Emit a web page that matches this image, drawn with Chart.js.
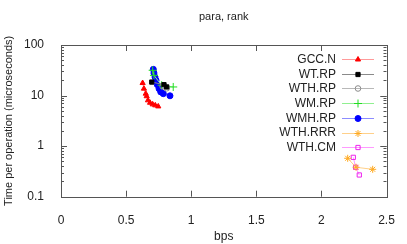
<!DOCTYPE html>
<html>
<head>
<meta charset="utf-8">
<script src="https://cdn.jsdelivr.net/npm/chart.js@4/dist/chart.umd.min.js"></script>
<style>
  html, body { margin: 0; padding: 0; background: #fff; }
  #wrap { width: 407px; height: 244px; }
</style>
</head>
<body>
<div id="wrap"><canvas id="chart" width="407" height="244"></canvas></div>
<script>
// data (x = bps, y = microseconds per op)
const seriesNames = ["GCC.N", "WT.RP", "WTH.RP", "WM.RP", "WMH.RP", "WTH.RRR", "WTH.CM"];

const gccX = [0.627, 0.637, 0.651, 0.658, 0.668, 0.684, 0.704, 0.724, 0.747];
const gccY = [17.7, 13.7, 10.9, 9.7, 8.05, 7.2, 6.7, 6.4, 6.1];

const wtX = [0.697, 0.791, 0.812];
const wtY = [18.5, 16.4, 14.8];

const wthX = [0.78, 0.812];
const wthY = [15.2, 13.9];

const wmX = [0.704, 0.714, 0.773, 0.862];
const wmY = [31.6, 25.1, 16.0, 14.8];

const wmhX = [0.709, 0.714, 0.722, 0.730, 0.740, 0.753, 0.766, 0.786, 0.837];
const wmhY = [33, 27.9, 23.3, 20, 16.4, 13.7, 11.8, 10.9, 9.9];

const rrrX = [2.202, 2.266, 2.394];
const rrrY = [0.575, 0.382, 0.348];

const cmX = [2.245, 2.263, 2.291];
const cmY = [0.60, 0.382, 0.269];

const xTicks = [0, 0.5, 1, 1.5, 2, 2.5];
const yTicks = [0.1, 1, 10, 100];

// styles
const styles = [
  { line: "#ff9a9a", point: "#ff0000", fill: "#ff0000", shape: "triangle", r: 3 },
  { line: "#8a8a8a", point: "#000000", fill: "#000000", shape: "rect", r: 3 },
  { line: "#b8b8b8", point: "#8c8c8c", fill: "rgba(0,0,0,0)", shape: "circle", r: 2.8 },
  { line: "#90f090", point: "#22dd22", fill: "#22dd22", shape: "cross", r: 4 },
  { line: "#8c8cff", point: "#0000ff", fill: "#0000ff", shape: "circle", r: 3 },
  { line: "#ffd08a", point: "#ffaa22", fill: "#ffaa22", shape: "star", r: 3.5 },
  { line: "#ff9aff", point: "#ee22ee", fill: "rgba(0,0,0,0)", shape: "rect", r: 3 }
];

const allX = [gccX, wtX, wthX, wmX, wmhX, rrrX, cmX];
const allY = [gccY, wtY, wthY, wmY, wmhY, rrrY, cmY];

const FONT = "'Liberation Sans', Arial, sans-serif";

const datasets = seriesNames.map((name, i) => ({
  label: name,
  data: allX[i].map((x, k) => ({ x: x, y: allY[i][k] })),
  showLine: true,
  borderColor: styles[i].line,
  borderWidth: 1,
  pointStyle: styles[i].shape,
  pointRadius: styles[i].r,
  pointBorderColor: styles[i].point,
  pointBackgroundColor: styles[i].fill,
  pointBorderWidth: 1
}));

// frame, inward ticks, title, gnuplot-style key
const gnuplotBits = {
  id: "gnuplotBits",
  afterDraw(chart) {
    const ctx = chart.ctx;
    const a = chart.chartArea;
    const xs = chart.scales.x, ys = chart.scales.y;
    ctx.save();
    ctx.strokeStyle = "#555";
    ctx.lineWidth = 1;
    ctx.strokeRect(Math.round(a.left) + 0.5, Math.round(a.top) + 0.5,
      Math.round(a.right - a.left), Math.round(a.bottom - a.top));
    ctx.beginPath();
    xTicks.forEach(v => {
      const px = Math.round(xs.getPixelForValue(v)) + 0.5;
      ctx.moveTo(px, a.bottom); ctx.lineTo(px, a.bottom - 6);
      ctx.moveTo(px, a.top); ctx.lineTo(px, a.top + 6);
    });
    for (let d = 0.1; d < 100; d *= 10) {
      for (let m = 1; m <= 10; m++) {
        const v = d * m;
        const py = Math.round(ys.getPixelForValue(v)) + 0.5;
        const len = (m === 1 || m === 10) ? 6 : 3;
        ctx.moveTo(a.left, py); ctx.lineTo(a.left + len, py);
        ctx.moveTo(a.right, py); ctx.lineTo(a.right - len, py);
      }
    }
    ctx.stroke();

    // title
    ctx.fillStyle = "#222";
    ctx.font = "11px " + FONT;
    ctx.textAlign = "center";
    ctx.textBaseline = "middle";
    ctx.fillText("para, rank", (a.left + a.right) / 2, 17);

    // key
    ctx.font = "12px " + FONT;
    ctx.textAlign = "right";
    seriesNames.forEach((name, i) => {
      const y = 59 + i * 14.7;
      ctx.fillStyle = "#222";
      ctx.fillText(name, 336, y + 0.5);
      ctx.strokeStyle = styles[i].line;
      ctx.beginPath();
      ctx.moveTo(342, Math.round(y) + 0.5);
      ctx.lineTo(374, Math.round(y) + 0.5);
      ctx.stroke();
      ctx.strokeStyle = styles[i].point;
      ctx.fillStyle = styles[i].fill;
      Chart.helpers.drawPoint(ctx, {
        pointStyle: styles[i].shape, radius: styles[i].r, borderWidth: 1, rotation: 0
      }, 358, Math.round(y) + 0.5);
    });
    ctx.restore();
  }
};

new Chart(document.getElementById("chart"), {
  type: "scatter",
  data: { datasets: datasets },
  options: {
    responsive: false,
    animation: false,
    layout: { padding: { top: 45, right: 20.5, left: 0, bottom: 0 } },
    plugins: { legend: { display: false }, tooltip: { enabled: false } },
    scales: {
      x: {
        type: "linear",
        min: 0, max: 2.5,
        afterFit(s) { s.height = 47.3; },
        afterBuildTicks(s) { s.ticks = xTicks.map(v => ({ value: v })); },
        grid: { display: false },
        border: { display: false },
        ticks: { padding: 9, color: "#222", font: { family: FONT, size: 12 },
          callback: v => String(v) },
        title: { display: true, text: "bps", color: "#222", padding: { top: 2, bottom: 0 },
          font: { family: FONT, size: 12 } }
      },
      y: {
        type: "logarithmic",
        min: 0.1, max: 100,
        afterFit(s) { s.width = 61; },
        afterBuildTicks(s) { s.ticks = yTicks.map(v => ({ value: v })); },
        grid: { display: false },
        border: { display: false },
        ticks: { padding: 9, color: "#222", font: { family: FONT, size: 12 },
          callback: v => String(v) },
        title: { display: true, text: "Time per operation (microseconds)", color: "#222",
          padding: { top: 2, bottom: 0 }, font: { family: FONT, size: 11 } }
      }
    }
  },
  plugins: [gnuplotBits]
});
</script>
</body>
</html>
